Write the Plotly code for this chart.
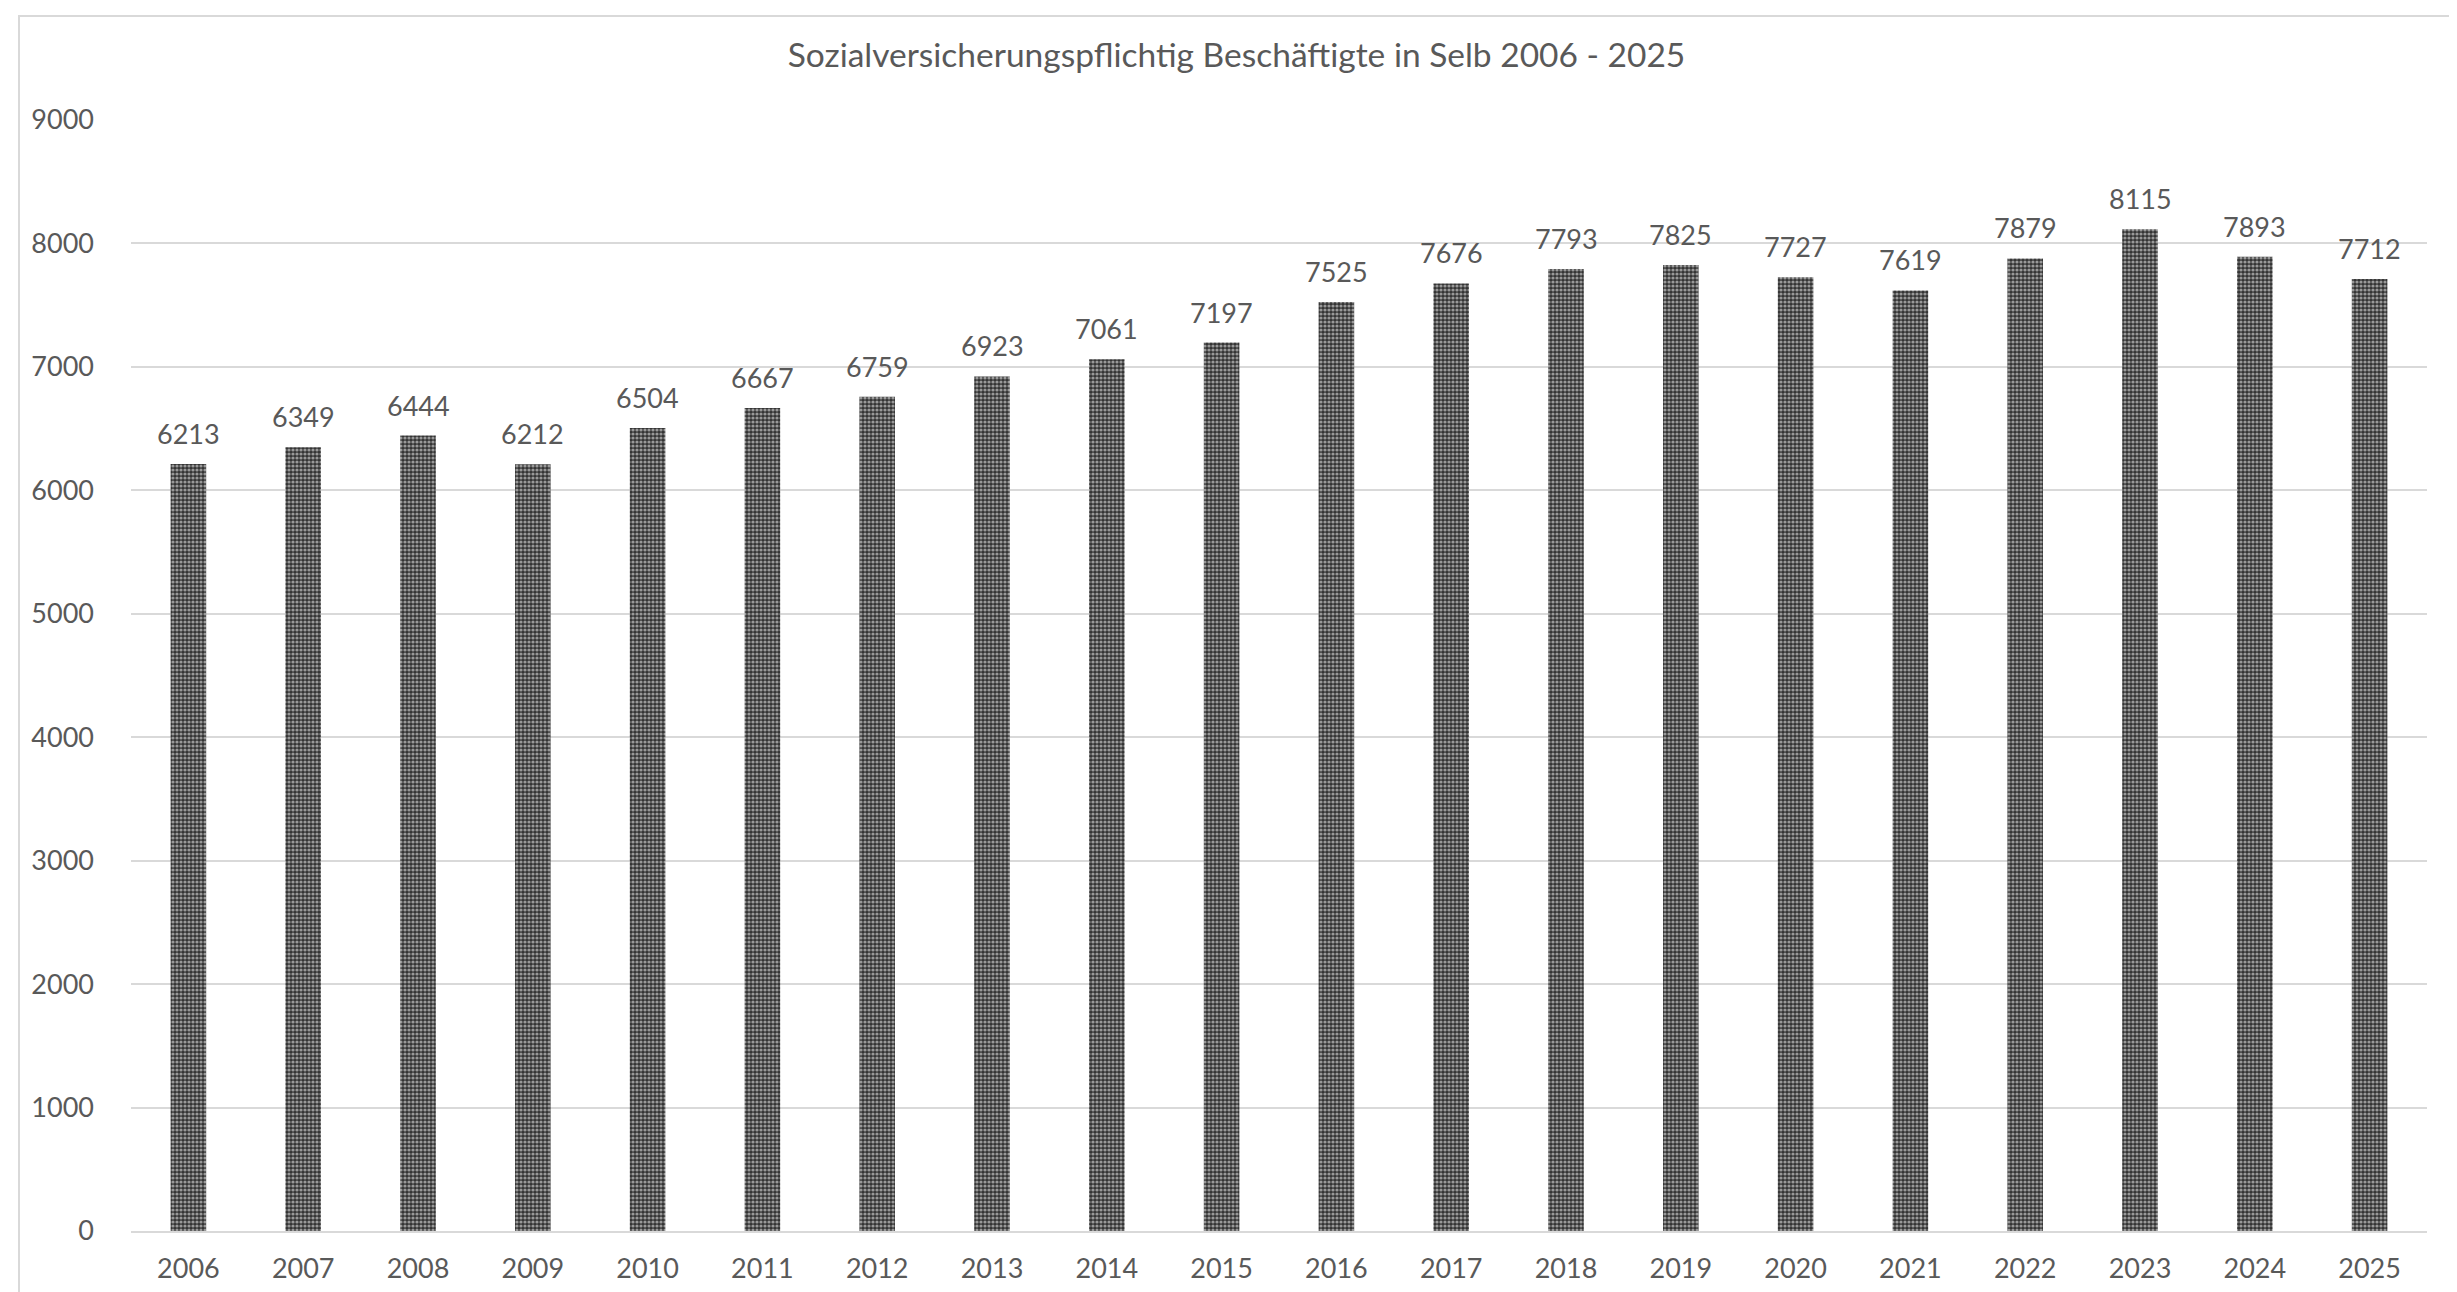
import plotly.graph_objects as go

years = [str(y) for y in range(2006, 2026)]
values = [6213, 6349, 6444, 6212, 6504, 6667, 6759, 6923, 7061, 7197,
          7525, 7676, 7793, 7825, 7727, 7619, 7879, 8115, 7893, 7712]
y_ticks = [0, 1000, 2000, 3000, 4000, 5000, 6000, 7000, 8000, 9000]
title_text = "Sozialversicherungspflichtig Beschäftigte in Selb 2006 - 2025"

W, H = 2457, 1292
L, R, T, B = 123, 38, 112, 69
pw, ph = W - L - R, H - T - B

FONT = "Lato"
TXT = "#595959"

fig = go.Figure()
fig.add_trace(go.Bar(
    x=years, y=values,
    marker=dict(
        color="#333333",
        line=dict(width=0),
        pattern=dict(shape=".", fgcolor="#ffffff", bgcolor="#333333", size=4, solidity=0.5),
    ),
    hoverinfo="x+y",
))

annotations = [
    dict(x=i, y=v, xref="x", yref="y", text=str(v), showarrow=False,
         yanchor="bottom", yshift=12, font=dict(family=FONT, size=27, color=TXT))
    for i, v in enumerate(values)
]

fig.update_layout(
    width=W, height=H,
    margin=dict(l=L, r=R, t=T, b=B, pad=0),
    paper_bgcolor="white", plot_bgcolor="white",
    bargap=0.69,
    showlegend=False,
    title=dict(text=title_text, x=0.5, xanchor="center", y=1 - 47 / H, yanchor="middle",
               font=dict(family=FONT, size=33.5, color=TXT)),
    font=dict(family=FONT, size=27, color=TXT),
    annotations=annotations,
    xaxis=dict(type="category", range=[-0.5, len(years) - 0.5], showgrid=False,
               showline=True, linecolor="#d9d9d9", linewidth=2,
               ticks="", tickfont=dict(family=FONT, size=27, color=TXT), ticklabelstandoff=13),
    yaxis=dict(range=[0, 9000], tickvals=y_ticks, showgrid=True, gridcolor="#d9d9d9",
               gridwidth=2, zeroline=False, showline=False, ticks="",
               tickfont=dict(family=FONT, size=27, color=TXT), ticklabelstandoff=36),
    shapes=[dict(type="rect", xref="paper", yref="paper",
                 x0=(11 - L) / pw, x1=(2449 - L) / pw,
                 y0=-(H - T + 20 - ph) / ph, y1=(H - B - 8) / ph,
                 line=dict(color="#d9d9d9", width=2), fillcolor="rgba(0,0,0,0)", layer="below")],
)

fig.write_html("out.html")
